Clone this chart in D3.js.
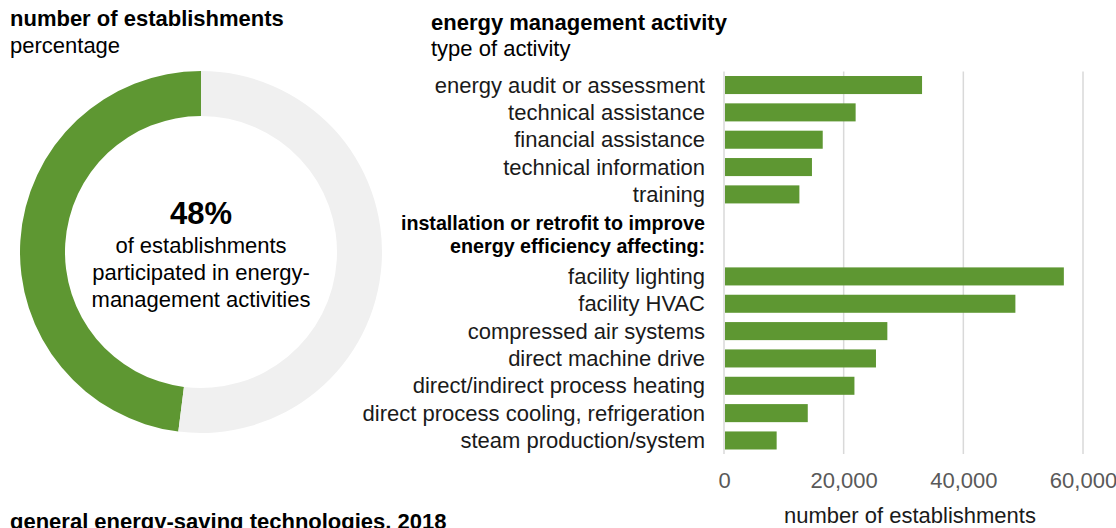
<!DOCTYPE html>
<html>
<head>
<meta charset="utf-8">
<script src="https://cdn.jsdelivr.net/npm/d3@7"></script>
<style>
  body { margin: 0; background: #fff; font-family: "Liberation Sans", Arial, sans-serif; }
  svg { display: block; }
</style>
</head>
<body>
<svg id="chart" width="1116" height="528"></svg>
<script>
// podatki za kolobar (delež ustanov)
const shareLabels = ["participated", "other"];
const shareValues = [48, 52];

// prva skupina aktivnosti
const activityLabels = ["energy audit or assessment", "technical assistance", "financial assistance",
  "technical information", "training"];
const activityValues = [33100, 22000, 16500, 14700, 12600];

// druga skupina: posodobitve
const retrofitLabels = ["facility lighting", "facility HVAC", "compressed air systems", "direct machine drive",
  "direct/indirect process heating", "direct process cooling, refrigeration", "steam production/system"];
const retrofitValues = [56800, 48700, 27300, 25400, 21800, 14000, 8800];

const retrofitHeading = ["installation or retrofit to improve", "energy efficiency affecting:"];
const xTicks = [0, 20000, 40000, 60000];

const green = "#5e9732";
const svg = d3.select("#chart");

// naslovi
svg.append("text").attr("x", 10).attr("y", 26).attr("font-size", 22).attr("font-weight", "bold")
  .text("number of establishments");
svg.append("text").attr("x", 10).attr("y", 53).attr("font-size", 22).text("percentage");
svg.append("text").attr("x", 431).attr("y", 30).attr("font-size", 22).attr("font-weight", "bold")
  .text("energy management activity");
svg.append("text").attr("x", 431).attr("y", 56).attr("font-size", 22).text("type of activity");
svg.append("text").attr("x", 10).attr("y", 529).attr("font-size", 22).attr("font-weight", "bold")
  .text("general energy-saving technologies, 2018");

// kolobar
const donut = svg.append("g").attr("transform", "translate(201,252)");
const pie = d3.pie().sort(null).startAngle(0).endAngle(-2 * Math.PI);
const arc = d3.arc().innerRadius(136).outerRadius(181);
donut.selectAll("path")
  .data(pie(shareValues))
  .enter()
  .append("path")
  .attr("d", arc)
  .attr("fill", (d, i) => i === 0 ? green : "#f0f0f0");

donut.append("text").attr("y", -28).attr("text-anchor", "middle")
  .attr("font-size", 31).attr("font-weight", "bold").text(shareValues[0] + "%");
const centerLines = ["of establishments", "participated in energy-", "management activities"];
donut.selectAll(".cline")
  .data(centerLines)
  .enter()
  .append("text")
  .attr("class", "cline")
  .attr("text-anchor", "middle")
  .attr("font-size", 22)
  .attr("y", (d, i) => 1 + i * 27)
  .text(d => d);

// stolpični graf
const gapKeys = ["__gap1", "__gap2"];
const rows = activityLabels.concat(gapKeys, retrofitLabels);
const barData = activityLabels.map((d, i) => ({ label: d, value: activityValues[i] }))
  .concat(retrofitLabels.map((d, i) => ({ label: d, value: retrofitValues[i] })));

const xScale = d3.scaleLinear().domain([0, 60000]).range([724, 1083]);
const yScale = d3.scaleBand().domain(rows).range([71.5, 454]).paddingInner(0.34).paddingOuter(0.165);

// mrežne črte
svg.append("g")
  .selectAll("line")
  .data(xTicks)
  .enter()
  .append("line")
  .attr("x1", d => xScale(d))
  .attr("x2", d => xScale(d))
  .attr("y1", 71.5)
  .attr("y2", 454)
  .attr("stroke", "#d9d9d9")
  .attr("stroke-width", 1.5);

svg.append("g")
  .selectAll("rect")
  .data(barData)
  .enter()
  .append("rect")
  .attr("x", xScale(0) + 1)
  .attr("y", d => yScale(d.label))
  .attr("width", d => xScale(d.value) - xScale(0) - 1)
  .attr("height", yScale.bandwidth())
  .attr("fill", green);

// oznake kategorij
svg.append("g")
  .selectAll("text")
  .data(barData)
  .enter()
  .append("text")
  .attr("x", 705)
  .attr("y", d => yScale(d.label) + yScale.bandwidth() / 2)
  .attr("dy", "0.35em")
  .attr("text-anchor", "end")
  .attr("font-size", 22)
  .attr("fill", "#1a1a1a")
  .text(d => d.label);

// podnaslov druge skupine
svg.append("g")
  .selectAll("text")
  .data(retrofitHeading)
  .enter()
  .append("text")
  .attr("x", 705)
  .attr("y", (d, i) => yScale(gapKeys[0]) + 17 + i * 23)
  .attr("text-anchor", "end")
  .attr("font-size", 19.7)
  .attr("font-weight", "bold")
  .text(d => d);

// os x
const xAxis = svg.append("g")
  .attr("transform", "translate(0,454)")
  .call(d3.axisBottom(xScale).tickValues(xTicks).tickSize(0).tickPadding(18).tickFormat(d3.format(",")));
xAxis.select(".domain").remove();
xAxis.selectAll("text")
  .attr("font-size", 22)
  .attr("font-family", "Liberation Sans, Arial, sans-serif")
  .attr("fill", "#595959");

svg.append("text")
  .attr("x", 910)
  .attr("y", 523)
  .attr("text-anchor", "middle")
  .attr("font-size", 22)
  .attr("fill", "#1a1a1a")
  .text("number of establishments");
</script>
</body>
</html>
